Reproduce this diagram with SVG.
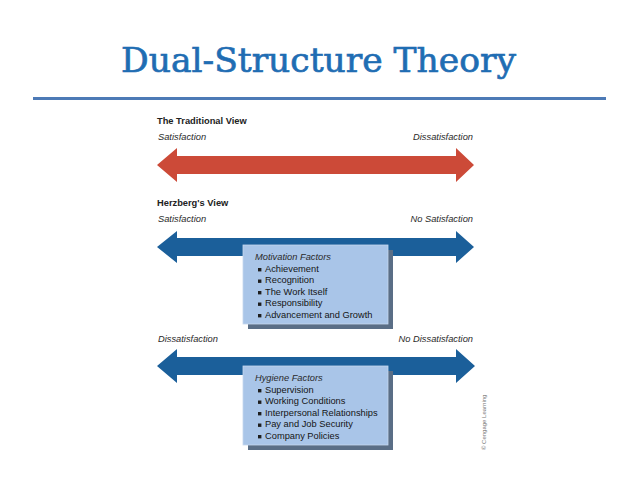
<svg xmlns="http://www.w3.org/2000/svg" width="638" height="479" viewBox="0 0 638 479">
<style>
.title{font-family:"DejaVu Serif","Liberation Serif",serif;font-size:34px;fill:#1f6db3;stroke:#1f6db3;stroke-width:0.7}
.hd{font-family:"Liberation Sans",Arial,sans-serif;font-size:9.3px;font-weight:bold;fill:#222}
.it{font-family:"Liberation Sans",Arial,sans-serif;font-size:9.3px;font-style:italic;fill:#2a2a2a}
.li{font-family:"Liberation Sans",Arial,sans-serif;font-size:9.3px;fill:#151515}
.bl{fill:#1e1e1e}
.box{fill:#a9c5e8;stroke:#c6d8ee;stroke-width:0.8}
.shadow{fill:#5a6e86}
.red{fill:#cc4a38}
.blue{fill:#1b5f9a}
.copy{font-family:"Liberation Sans",Arial,sans-serif;font-size:6px;fill:#777}
</style>
<rect width="638" height="479" fill="#fff"/>
<text class="title" x="121" y="72" textLength="395" lengthAdjust="spacingAndGlyphs">Dual-Structure Theory</text>
<rect x="33" y="97" width="573" height="3" fill="#4d7ab6"/>

<g id="traditional">
<text class="hd" x="157" y="123.5">The Traditional View</text>
<text class="it" x="158" y="140">Satisfaction</text>
<text class="it" x="473" y="140" text-anchor="end">Dissatisfaction</text>
</g>
<g id="herzberg-label">
<text class="hd" x="157" y="205.5">Herzberg's View</text>
<text class="it" x="158" y="222">Satisfaction</text>
<text class="it" x="473" y="222" text-anchor="end">No Satisfaction</text>
</g>
<g id="hygiene-label">
<text class="it" x="158" y="342">Dissatisfaction</text>
<text class="it" x="473" y="342" text-anchor="end">No Dissatisfaction</text>
</g>

<g id="connectors">
<polygon class="red" points="157,165 177,148 177,156 456,156 456,148 474,165 456,182 456,174 177,174 177,182"/>
<polygon class="blue" points="157,247 177,231 177,238 456,238 456,231 474,247 456,263 456,256 177,256 177,263"/>
<polygon class="blue" points="157,366 177,349 177,357 456,357 456,349 475,366 456,383 456,375 177,375 177,383"/>
</g>

<g id="motivation">
<rect class="shadow" x="248" y="250" width="145" height="79"/>
<rect class="box" x="243" y="245" width="145" height="79"/>
<text class="it" x="255" y="260">Motivation Factors</text>
<rect class="bl" x="258" y="268" width="3.4" height="3.4"/>
<text class="li" x="265" y="271.5">Achievement</text>
<rect class="bl" x="258" y="279.5" width="3.4" height="3.4"/>
<text class="li" x="265" y="283">Recognition</text>
<rect class="bl" x="258" y="291" width="3.4" height="3.4"/>
<text class="li" x="265" y="294.5">The Work Itself</text>
<rect class="bl" x="258" y="302.5" width="3.4" height="3.4"/>
<text class="li" x="265" y="306">Responsibility</text>
<rect class="bl" x="258" y="314" width="3.4" height="3.4"/>
<text class="li" x="265" y="317.5">Advancement and Growth</text>
</g>

<g id="hygiene">
<rect class="shadow" x="248" y="371" width="145" height="79"/>
<rect class="box" x="243" y="366" width="145" height="79"/>
<text class="it" x="255" y="381">Hygiene Factors</text>
<rect class="bl" x="258" y="389" width="3.4" height="3.4"/>
<text class="li" x="265" y="392.5">Supervision</text>
<rect class="bl" x="258" y="400.5" width="3.4" height="3.4"/>
<text class="li" x="265" y="404">Working Conditions</text>
<rect class="bl" x="258" y="412" width="3.4" height="3.4"/>
<text class="li" x="265" y="415.5">Interpersonal Relationships</text>
<rect class="bl" x="258" y="423.5" width="3.4" height="3.4"/>
<text class="li" x="265" y="427">Pay and Job Security</text>
<rect class="bl" x="258" y="435" width="3.4" height="3.4"/>
<text class="li" x="265" y="438.5">Company Policies</text>
</g>

<text class="copy" transform="translate(486,450) rotate(-90)">© Cengage Learning</text>
</svg>
